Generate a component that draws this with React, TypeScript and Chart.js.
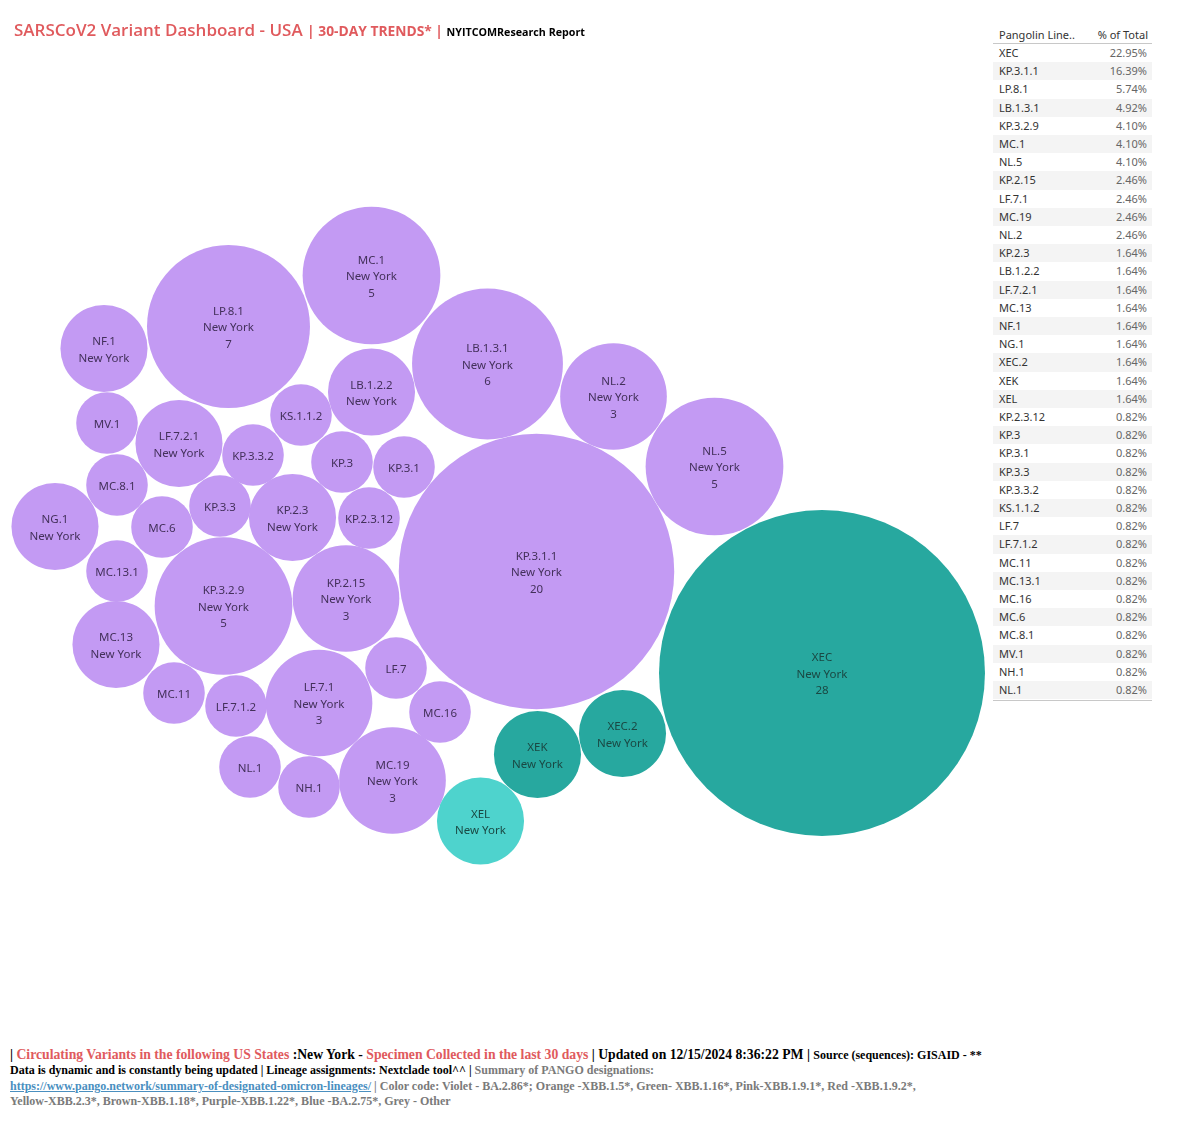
import React, { useEffect, useRef } from "react";
import { Chart, registerables } from "chart.js";

Chart.register(...registerables);

// Lineage counts for New York, sorted by count then name
const lineages = [
  "XEC", "KP.3.1.1", "LP.8.1", "LB.1.3.1", "KP.3.2.9", "MC.1", "NL.5",
  "KP.2.15", "LF.7.1", "MC.19", "NL.2",
  "KP.2.3", "LB.1.2.2", "LF.7.2.1", "MC.13", "NF.1", "NG.1", "XEC.2", "XEK", "XEL",
  "KP.2.3.12", "KP.3", "KP.3.1", "KP.3.3", "KP.3.3.2", "KS.1.1.2", "LF.7", "LF.7.1.2",
  "MC.11", "MC.13.1", "MC.16", "MC.6", "MC.8.1", "MV.1", "NH.1", "NL.1",
];
const counts = [
  28, 20, 7, 6, 5, 5, 5,
  3, 3, 3, 3,
  2, 2, 2, 2, 2, 2, 2, 2, 2,
  1, 1, 1, 1, 1, 1, 1, 1,
  1, 1, 1, 1, 1, 1, 1, 1,
];
// Packed-bubble layout position of each lineage (layout units)
const packX = [
  822, 536.5, 228.5, 487.5, 223.5, 371.5, 714.5,
  346, 319, 392.5, 613.5,
  292.5, 371.5, 179, 116, 104, 55, 622.5, 537.5, 480.5,
  369, 342, 404, 220, 253, 301, 396, 236,
  174, 117, 440, 162, 117, 107, 309, 250,
];
const packY = [
  673, 571.5, 326.5, 364, 606, 275.5, 466.5,
  598.5, 703, 780.5, 396.5,
  517.5, 392, 443.5, 644.5, 348.5, 526.5, 733.5, 754.5, 821,
  518, 462, 467, 506, 455, 415, 668, 706,
  693, 571, 712, 527, 485, 423, 787, 767,
];
const stateName = "New York";
const tableHeaders = ["Pangolin Line..", "% of Total"];

const tealLineages = ["XEC", "XEC.2", "XEK"];
const turquoiseLineages = ["XEL"];

const VIOLET = "#C39AF3";
const TEAL = "#27A89F";
const TURQUOISE = "#4ED3CD";
const RADIUS_UNIT = 30.8;

const CANVAS_W = 990;
const CANVAS_H = 1040;

const fillFor = (name: string) =>
  tealLineages.includes(name) ? TEAL : turquoiseLineages.includes(name) ? TURQUOISE : VIOLET;
const textFor = (name: string) =>
  tealLineages.includes(name) || turquoiseLineages.includes(name) ? "#1a4843" : "#43305a";

const total = counts.reduce((a, b) => a + b, 0);

// Centered name / state / count labels inside each bubble
const bubbleLabels = {
  id: "bubbleLabels",
  afterDatasetsDraw(chart: any) {
    const ctx = chart.ctx;
    const meta = chart.getDatasetMeta(0);
    ctx.save();
    ctx.font = '11.5px "Noto Sans", "Open Sans", sans-serif';
    ctx.textAlign = "center";
    ctx.textBaseline = "middle";
    const lh = 16.5;
    meta.data.forEach((el: any, i: number) => {
      const n = counts[i];
      const name = lineages[i];
      const lines = n >= 3 ? [name, stateName, String(n)] : n === 2 ? [name, stateName] : [name];
      ctx.fillStyle = textFor(name);
      const y0 = el.y + 1.5 - ((lines.length - 1) * lh) / 2;
      lines.forEach((t, k) => ctx.fillText(t, el.x, y0 + k * lh));
    });
    ctx.restore();
  },
};

function BubbleChart() {
  const ref = useRef<HTMLCanvasElement>(null);
  useEffect(() => {
    if (!ref.current) return;
    const chart = new Chart(ref.current, {
      type: "bubble",
      data: {
        datasets: [
          {
            data: lineages.map((_, i) => ({
              x: packX[i],
              y: packY[i],
              r: RADIUS_UNIT * Math.sqrt(counts[i]),
            })),
            backgroundColor: lineages.map(fillFor),
            borderWidth: 0,
            hoverBorderWidth: 0,
            clip: false as any,
          },
        ],
      },
      options: {
        responsive: false,
        animation: false,
        events: [],
        layout: { padding: 0, autoPadding: false },
        scales: {
          x: { type: "linear", min: 0, max: CANVAS_W, display: false },
          y: { type: "linear", min: 0, max: CANVAS_H, reverse: true, display: false },
        },
        plugins: { legend: { display: false }, tooltip: { enabled: false } },
      },
      plugins: [bubbleLabels],
    });
    return () => chart.destroy();
  }, []);
  return (
    <canvas
      ref={ref}
      width={CANVAS_W}
      height={CANVAS_H}
      style={{ position: "absolute", left: 0, top: 0, width: CANVAS_W, height: CANVAS_H }}
    />
  );
}

function LineageTable() {
  const left = 993;
  const width = 159;
  const top = 44;
  const rowH = 18.2;
  const font = '"Noto Sans", "Open Sans", sans-serif';
  return (
    <div style={{ position: "absolute", left, top: 0, width, height: 720, fontFamily: font, fontSize: 11 }}>
      <div style={{ position: "absolute", left: 6, top: 27, color: "#333" }}>{tableHeaders[0]}</div>
      <div style={{ position: "absolute", right: 4, top: 27, color: "#333" }}>{tableHeaders[1]}</div>
      <div style={{ position: "absolute", left: 0, top: top - 1, width, height: 1, background: "#c8c8c8" }} />
      {lineages.map((name, i) => (
        <div
          key={name}
          style={{
            position: "absolute",
            left: 0,
            top: top + i * rowH,
            width,
            height: rowH,
            lineHeight: rowH + "px",
            background: i % 2 === 1 ? "#f4f4f4" : "#fff",
          }}
        >
          <span style={{ position: "absolute", left: 6, color: "#333" }}>{name}</span>
          <span style={{ position: "absolute", right: 5, color: "#666" }}>
            {((counts[i] / total) * 100).toFixed(2)}%
          </span>
        </div>
      ))}
      <div
        style={{ position: "absolute", left: 0, top: top + lineages.length * rowH + 1, width, height: 1, background: "#c8c8c8" }}
      />
    </div>
  );
}

const RED = "#E05A5D";
const GRAY = "#7a7a7a";

function Footer() {
  const serif = '"Liberation Serif", "Times New Roman", serif';
  const line: React.CSSProperties = { position: "absolute", left: 10, whiteSpace: "nowrap", fontWeight: "bold" };
  return (
    <div style={{ fontFamily: serif }}>
      <div style={{ ...line, top: 1047, fontSize: 13.7 }}>
        <span style={{ color: "#000" }}>| </span>
        <span style={{ color: RED }}>Circulating Variants in the following US States</span>
        <span style={{ color: "#000" }}> :New York - </span>
        <span style={{ color: RED }}>Specimen Collected in the last 30 days</span>
        <span style={{ color: "#000" }}> | Updated on 12/15/2024 8:36:22 PM | </span>
        <span style={{ color: "#000", fontSize: 12 }}>Source (sequences): GISAID - **</span>
      </div>
      <div style={{ ...line, top: 1063, fontSize: 12 }}>
        <span style={{ color: "#000" }}>
          Data is dynamic and is constantly being updated | Lineage assignments: Nextclade tool^^ |{" "}
        </span>
        <span style={{ color: GRAY }}>Summary of PANGO designations:</span>
      </div>
      <div style={{ ...line, top: 1079, fontSize: 12 }}>
        <span style={{ color: "#4a8fbf", textDecoration: "underline" }}>
          https://www.pango.network/summary-of-designated-omicron-lineages/
        </span>
        <span style={{ color: GRAY }}>
          {" "}| Color code: Violet - BA.2.86*; Orange -XBB.1.5*, Green- XBB.1.16*, Pink-XBB.1.9.1*, Red -XBB.1.9.2*,
        </span>
      </div>
      <div style={{ ...line, top: 1094, fontSize: 12, color: GRAY }}>
        Yellow-XBB.2.3*, Brown-XBB.1.18*, Purple-XBB.1.22*, Blue -BA.2.75*, Grey - Other
      </div>
    </div>
  );
}

function Title() {
  const font = '"Open Sans", "Noto Sans", sans-serif';
  return (
    <div style={{ position: "absolute", left: 14, top: 18, whiteSpace: "nowrap", fontFamily: font, fontWeight: 600 }}>
      <span style={{ color: RED, fontSize: 17 }}>SARSCoV2 Variant Dashboard - USA </span>
      <span style={{ color: RED, fontSize: 13.8, fontWeight: 700 }}>| 30-DAY TRENDS* | </span>
      <span style={{ color: "#000", fontSize: 10.7, fontWeight: 700 }}>NYITCOMResearch Report</span>
    </div>
  );
}

export default function App() {
  return (
    <div style={{ position: "absolute", left: 0, top: 0, width: 1200, height: 1127, background: "#fff", overflow: "hidden" }}>
      <BubbleChart />
      <Title />
      <LineageTable />
      <Footer />
    </div>
  );
}
